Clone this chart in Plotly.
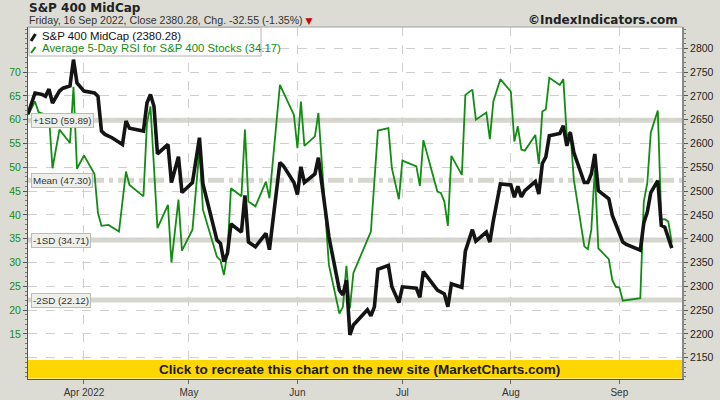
import plotly.graph_objects as go

# ---------------- data ----------------
price_dates = [
    "2022-03-16", "2022-03-18", "2022-03-20", "2022-03-21", "2022-03-22", "2022-03-23", "2022-03-25", "2022-03-26",
    "2022-03-28", "2022-03-29", "2022-03-30", "2022-04-01", "2022-04-04", "2022-04-05", "2022-04-06", "2022-04-07",
    "2022-04-09", "2022-04-12", "2022-04-13", "2022-04-14", "2022-04-18", "2022-04-19", "2022-04-20", "2022-04-21",
    "2022-04-22", "2022-04-25", "2022-04-26", "2022-04-28", "2022-04-29", "2022-05-02", "2022-05-04", "2022-05-05",
    "2022-05-09", "2022-05-10", "2022-05-11", "2022-05-12", "2022-05-13", "2022-05-16", "2022-05-17", "2022-05-18",
    "2022-05-20", "2022-05-23", "2022-05-24", "2022-05-27", "2022-05-28", "2022-05-31", "2022-06-01", "2022-06-02",
    "2022-06-03", "2022-06-06", "2022-06-07", "2022-06-10", "2022-06-13", "2022-06-14", "2022-06-15", "2022-06-16",
    "2022-06-17", "2022-06-21", "2022-06-22", "2022-06-23", "2022-06-24", "2022-06-27", "2022-06-28", "2022-06-30",
    "2022-07-01", "2022-07-05", "2022-07-06", "2022-07-07", "2022-07-11", "2022-07-13", "2022-07-14", "2022-07-15",
    "2022-07-18", "2022-07-19", "2022-07-21", "2022-07-22", "2022-07-25", "2022-07-26", "2022-07-27", "2022-07-29",
    "2022-08-01", "2022-08-02", "2022-08-03", "2022-08-04", "2022-08-05", "2022-08-08", "2022-08-09", "2022-08-10",
    "2022-08-11", "2022-08-12", "2022-08-15", "2022-08-16", "2022-08-17", "2022-08-18", "2022-08-19", "2022-08-22",
    "2022-08-23", "2022-08-24", "2022-08-25", "2022-08-26", "2022-08-29", "2022-08-30", "2022-09-02", "2022-09-03",
    "2022-09-07", "2022-09-08", "2022-09-09", "2022-09-10", "2022-09-12", "2022-09-13", "2022-09-14", "2022-09-16",
]
price_values = [
    2662, 2706, 2703, 2699, 2714, 2685, 2710, 2716,
    2721, 2776, 2727, 2710, 2706, 2699, 2626, 2619,
    2612, 2598, 2647, 2632, 2626, 2685, 2703, 2678,
    2578, 2598, 2518, 2572, 2497, 2518, 2612, 2515,
    2397, 2390, 2352, 2369, 2431, 2414, 2491, 2393,
    2383, 2411, 2377, 2560, 2553, 2518, 2493, 2551,
    2518, 2536, 2570, 2404, 2292, 2282, 2313, 2198,
    2219, 2251, 2238, 2257, 2336, 2344, 2299, 2266,
    2299, 2296, 2277, 2331, 2292, 2284, 2257, 2305,
    2298, 2374, 2419, 2395, 2414, 2393, 2438, 2515,
    2513, 2487, 2510, 2488, 2501, 2520, 2494, 2558,
    2572, 2616, 2621, 2637, 2595, 2623, 2581, 2518,
    2518, 2536, 2578, 2501, 2484, 2449, 2393, 2388,
    2376, 2433, 2456, 2497, 2522, 2428, 2424, 2380.28,
]

rsi_dates = [
    "2022-03-16", "2022-03-18", "2022-03-19", "2022-03-22", "2022-03-23", "2022-03-25", "2022-03-28", "2022-03-29",
    "2022-03-30", "2022-04-01", "2022-04-04", "2022-04-05", "2022-04-06", "2022-04-08", "2022-04-11", "2022-04-13",
    "2022-04-14", "2022-04-18", "2022-04-19", "2022-04-20", "2022-04-22", "2022-04-25", "2022-04-26", "2022-04-28",
    "2022-04-29", "2022-05-02", "2022-05-04", "2022-05-05", "2022-05-09", "2022-05-10", "2022-05-11", "2022-05-12",
    "2022-05-13", "2022-05-16", "2022-05-17", "2022-05-18", "2022-05-20", "2022-05-23", "2022-05-24", "2022-05-27",
    "2022-05-31", "2022-06-01", "2022-06-02", "2022-06-03", "2022-06-06", "2022-06-07", "2022-06-10", "2022-06-13",
    "2022-06-14", "2022-06-15", "2022-06-16", "2022-06-17", "2022-06-22", "2022-06-24", "2022-06-27", "2022-06-28",
    "2022-06-30", "2022-07-01", "2022-07-05", "2022-07-06", "2022-07-07", "2022-07-11", "2022-07-12", "2022-07-13",
    "2022-07-14", "2022-07-15", "2022-07-18", "2022-07-19", "2022-07-21", "2022-07-22", "2022-07-25", "2022-07-26",
    "2022-07-27", "2022-07-29", "2022-08-01", "2022-08-02", "2022-08-03", "2022-08-04", "2022-08-05", "2022-08-08",
    "2022-08-09", "2022-08-10", "2022-08-11", "2022-08-12", "2022-08-15", "2022-08-16", "2022-08-17", "2022-08-18",
    "2022-08-19", "2022-08-22", "2022-08-23", "2022-08-24", "2022-08-25", "2022-08-26", "2022-08-29", "2022-08-30",
    "2022-08-31", "2022-09-01", "2022-09-02", "2022-09-07", "2022-09-08", "2022-09-09", "2022-09-10", "2022-09-12",
    "2022-09-13", "2022-09-14", "2022-09-15", "2022-09-16",
]
rsi_values = [
    61.0, 63.8, 61.6, 60.8, 49.8, 57.9, 55.1, 66.9,
    49.7, 52.5, 48.6, 40.4, 37.7, 37.9, 36.5, 49.1,
    46.3, 43.9, 59.3, 62.8, 37.2, 42.1, 30.0, 43.2,
    32.5, 36.9, 53.7, 41.1, 31.2, 30.5, 27.4, 32.0,
    45.6, 43.9, 57.9, 42.8, 41.8, 47.0, 43.5, 67.3,
    61.0, 54.0, 63.8, 54.5, 56.5, 61.4, 29.5, 19.3,
    20.7, 29.3, 20.4, 27.8, 36.5, 57.7, 58.2, 49.8,
    43.3, 51.4, 50.2, 46.1, 55.7, 44.9, 44.6, 42.8,
    37.7, 52.4, 48.4, 65.2, 66.3, 60.0, 61.5, 55.9,
    63.8, 68.5, 65.9, 55.4, 58.6, 53.7, 53.5, 56.8,
    50.7, 61.7, 62.2, 68.8, 67.3, 68.5, 56.5, 57.5,
    47.4, 33.4, 32.8, 36.9, 49.5, 33.0, 30.7, 26.3,
    24.9, 24.8, 22.0, 22.5, 42.8, 46.7, 57.3, 61.9,
    39.0, 39.1, 38.6, 34.17,
]

band_levels = [59.89, 47.30, 34.71, 22.12]
band_names = ["+1SD", "Mean", "-1SD", "-2SD"]

month_ticks = ["2022-04-01", "2022-05-01", "2022-06-01", "2022-07-01", "2022-08-01", "2022-09-01"]
month_labels = ["Apr 2022", "May", "Jun", "Jul", "Aug", "Sep"]
price_ticks = list(range(2150, 2801, 50))
rsi_ticks = list(range(15, 71, 5))

title_text = "S&amp;P 400 MidCap"
subtitle_text = "Friday, 16 Sep 2022, Close 2380.28, Chg. -32.55 (-1.35%)"
price_name = "S&amp;P 400 MidCap (2380.28)"
rsi_name = "Average 5-Day RSI for S&amp;P 400 Stocks (34.17)"

# ---------------- layout helpers ----------------
W, H = 720, 400
L, R, T, B = 28, 682, 27, 379


def px(x):
    return (x - L) / (R - L)


def py(y):
    return (B - y) / (B - T)


GREEN = "#138c13"
SMALL = "Liberation Sans, Arial, sans-serif"
BOLD = "DejaVu Sans, Verdana, sans-serif"

fig = go.Figure()
fig.add_trace(go.Scatter(x=rsi_dates, y=rsi_values, mode="lines", yaxis="y",
                         line=dict(color=GREEN, width=1.8), name=rsi_name,
                         hoverinfo="skip"))
fig.add_trace(go.Scatter(x=price_dates, y=price_values, mode="lines", yaxis="y2",
                         line=dict(color="#141414", width=3.6), name=price_name,
                         hoverinfo="skip"))

shapes = []
annotations = []

# SD bands
for lvl, nm in zip(band_levels, band_names):
    shapes.append(dict(type="line", xref="paper", yref="y", x0=0, x1=1, y0=lvl, y1=lvl,
                       line=dict(color="#d6d6ce", width=5,
                                 dash="16px,5px,4px,5px" if nm == "Mean" else "solid"),
                       layer="between"))
    annotations.append(dict(xref="paper", yref="y", x=px(30.5), y=lvl, xanchor="left", yanchor="middle",
                            text=f"{nm} ({lvl:.2f})", showarrow=False,
                            font=dict(family=SMALL, size=9.8, color="#333333"),
                            bgcolor="#efefe9", bordercolor="#bcbcb4", borderwidth=1, borderpad=1))

# yellow banner
shapes.append(dict(type="rect", xref="paper", yref="paper", x0=0, x1=1, y0=py(378.4), y1=py(360),
                   fillcolor="#ffd700", line=dict(width=0), layer="above"))
annotations.append(dict(xref="paper", yref="paper", x=px(359), y=py(369.5), xanchor="center", yanchor="middle",
                        text="<b>Click to recreate this chart on the new site (MarketCharts.com)</b>",
                        showarrow=False, font=dict(family=SMALL, size=13.5, color="#1a1a1a")))

# top frame line
shapes.append(dict(type="line", xref="paper", yref="paper", x0=0, x1=1, y0=1, y1=1,
                   line=dict(color="#a0a0a0", width=1), layer="above"))

# legend box
shapes.append(dict(type="rect", xref="paper", yref="paper", x0=px(29), x1=px(261), y0=py(56), y1=py(27.5),
                   fillcolor="#ffffff", line=dict(color="#b4b4b4", width=1), layer="above"))
shapes.append(dict(type="line", xref="paper", yref="paper", x0=px(31), x1=px(35.5), y0=py(41), y1=py(34),
                   line=dict(color="#141414", width=3), layer="above"))
shapes.append(dict(type="line", xref="paper", yref="paper", x0=px(31), x1=px(35.5), y0=py(53), y1=py(47),
                   line=dict(color=GREEN, width=2), layer="above"))
annotations.append(dict(xref="paper", yref="paper", x=px(40), y=py(35.8), xanchor="left", yanchor="middle",
                        text=price_name, showarrow=False, font=dict(family=SMALL, size=11.4, color="#111111")))
annotations.append(dict(xref="paper", yref="paper", x=px(40), y=py(48.5), xanchor="left", yanchor="middle",
                        text=rsi_name, showarrow=False, font=dict(family=SMALL, size=11.4, color=GREEN)))

# titles
annotations.append(dict(xref="paper", yref="paper", x=px(27), y=py(8), xanchor="left", yanchor="middle",
                        text=f"<b>{title_text}</b>", showarrow=False,
                        font=dict(family=BOLD, size=12, color="#222222")))
annotations.append(dict(xref="paper", yref="paper", x=px(27), y=py(20.5), xanchor="left", yanchor="middle",
                        text=subtitle_text + ' <span style="color:#cc0000;font-size:9px;font-family:DejaVu Sans">▼</span>',
                        showarrow=False,
                        font=dict(family=SMALL, size=10.6, color="#333333")))
annotations.append(dict(xref="paper", yref="paper", x=px(680), y=py(20), xanchor="right", yanchor="middle",
                        text="<b>©IndexIndicators.com</b>", showarrow=False,
                        font=dict(family=BOLD, size=12, color="#222222")))

fig.update_layout(
    width=W, height=H,
    margin=dict(l=L, r=W - R, t=T, b=H - B, pad=0, autoexpand=False),
    paper_bgcolor="#dcdcd4",
    plot_bgcolor="#ffffff",
    showlegend=False,
    shapes=shapes,
    annotations=annotations,
    xaxis=dict(type="date", range=["2022-03-16", "2022-09-18 22:00"],
               tickvals=month_ticks, ticktext=month_labels, automargin=False,
               tickfont=dict(family=SMALL, size=10, color="#333333"),
               showgrid=True, gridcolor="#cfcfcf", griddash="dash", gridwidth=1,
               ticks="outside", ticklen=4, tickcolor="#666666",
               showline=True, linecolor="#555555", linewidth=1,
               zeroline=False, fixedrange=True),
    yaxis=dict(range=[5.55, 79.45], tickvals=rsi_ticks, automargin=False,
               tickfont=dict(family=SMALL, size=10.5, color=GREEN),
               showgrid=False, zeroline=False,
               ticks="outside", ticklen=4, tickcolor="#555555",
               minor=dict(dtick=1, ticks="outside", ticklen=2, tickcolor="#777777", showgrid=False),
               showline=True, linecolor="#555555", linewidth=1),
    yaxis2=dict(range=[2105.5, 2844.5], tickvals=price_ticks, overlaying="y", side="right", automargin=False,
                tickfont=dict(family=SMALL, size=10.5, color="#222222"),
                showgrid=True, gridcolor="#cfcfcf", griddash="dash", gridwidth=1, zeroline=False,
                ticks="outside", ticklen=4, tickcolor="#555555",
                minor=dict(dtick=10, ticks="outside", ticklen=2, tickcolor="#777777", showgrid=False),
                showline=True, linecolor="#8a8a8a", linewidth=2),
)

assert len(price_dates) == len(price_values)
assert len(rsi_dates) == len(rsi_values)

# remove the browser's default 8px page margin so the 720x400 figure fills the window
fig.write_html("out.html",
               config={"displayModeBar": False},
               post_script="document.body.style.margin='0';document.body.style.overflow='hidden';")
